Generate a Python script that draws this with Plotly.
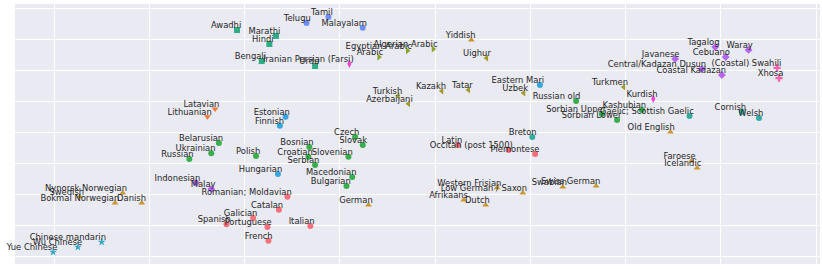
import plotly.graph_objects as go

languages = [
    "Awadhi", "Marathi", "Hindi", "Bengali", "Urdu",
    "Telugu", "Tamil", "Malayalam",
    "Iranian Persian (Farsi)", "Kurdish",
    "Arabic", "Egyptian Arabic", "Algerian Arabic",
    "Turkish", "Azerbaijani", "Kazakh", "Tatar", "Uzbek", "Uighur", "Turkmen",
    "Estonian", "Finnish", "Hungarian", "Eastern Mari",
    "Latavian", "Lithuanian",
    "Russian old", "Sorbian Upper", "Sorbian Lower", "Kashubian", "Czech", "Slovak",
    "Bosnian", "Croatian", "Slovenian", "Serbian", "Macedonian", "Bulgarian",
    "Belarusian", "Ukrainian", "Russian", "Polish",
    "Gaelic; Scottish Gaelic", "Cornish", "Welsh", "Breton",
    "Latin", "Occitan (post 1500)", "Piemontese", "Romanian; Moldavian", "Catalan",
    "Galician", "Spanish", "Portuguese", "French", "Italian",
    "Yiddish", "Old English", "German", "Western Frisian", "Low German / Saxon",
    "Afrikaans", "Dutch", "Swabian", "Swiss German", "Faroese", "Icelandic",
    "Nynorsk Norwegian", "Swedish", "Bokmal Norwegian", "Danish",
    "Indonesian", "Malay", "Javanese", "Tagalog", "Waray", "Cebuano",
    "Central/Kadazan Dusun", "Coastal Kadazan",
    "(Coastal) Swahili", "Xhosa",
    "Chinese mandarin", "Wu Chinese", "Yue Chinese",
]

families = (
    ["Indo-Aryan"] * 5 + ["Dravidian"] * 3 + ["Iranian"] * 2 + ["Semitic"] * 3 +
    ["Turkic"] * 7 + ["Uralic"] * 4 + ["Baltic"] * 2 + ["Slavic"] * 16 +
    ["Celtic"] * 4 + ["Romance"] * 10 + ["Germanic"] * 15 + ["Austronesian"] * 8 +
    ["Bantu"] * 2 + ["Sinitic"] * 3
)

x_vals = [
    1.92, 2.33, 2.26, 2.18, 2.74,
    2.65, 2.88, 3.24,
    3.10, 6.29,
    3.41, 3.71, 3.98,
    3.61, 3.72, 4.07, 4.35, 4.93, 4.54, 5.98,
    2.43, 2.37, 2.35, 5.10,
    1.69, 1.61,
    5.48, 5.75, 5.91, 6.17, 3.16, 3.24,
    2.68, 2.67, 3.09, 2.74, 3.13, 3.07,
    1.73, 1.65, 1.42, 2.12,
    6.67, 7.22, 7.40, 5.02,
    4.24, 4.77, 5.05, 2.45, 2.36,
    2.09, 1.81, 2.24, 2.25, 2.69,
    4.38, 6.47, 3.30, 4.65, 4.92,
    4.30, 4.53, 5.34, 5.69, 6.69, 6.75,
    0.72, 0.27, 0.64, 0.92,
    1.49, 1.65, 6.52, 6.94, 7.29, 7.05,
    6.80, 7.01,
    7.59, 7.61,
    0.50, 0.25, -0.01,
]

y_vals = [
    7.32, 7.13, 6.87, 6.32, 6.16,
    7.55, 7.74, 7.39,
    6.23, 5.10,
    6.45, 6.65, 6.71,
    5.19, 4.94, 5.35, 5.39, 5.29, 6.42, 5.48,
    4.52, 4.23, 2.68, 5.55,
    4.77, 4.52,
    5.03, 4.61, 4.42, 4.74, 3.87, 3.61,
    3.55, 3.23, 3.23, 2.97, 2.58, 2.29,
    3.68, 3.35, 3.16, 3.26,
    4.55, 4.68, 4.48, 3.87,
    3.61, 3.45, 3.32, 1.94, 1.52,
    1.26, 1.06, 0.97, 0.52, 1.00,
    7.00, 4.03, 1.68, 2.23, 2.06,
    1.84, 1.68, 2.26, 2.29, 3.10, 2.87,
    2.06, 1.94, 1.74, 1.74,
    2.39, 2.19, 6.39, 6.77, 6.68, 6.45,
    6.06, 5.87,
    6.10, 5.77,
    0.48, 0.32, 0.16,
]

family_colors = {
    "Indo-Aryan": "#30ac87",
    "Dravidian": "#6f8ef2",
    "Iranian": "#ee45d6",
    "Semitic": "#8ba52c",
    "Turkic": "#a39a2c",
    "Uralic": "#38a5dc",
    "Baltic": "#f07b35",
    "Slavic": "#39ae4c",
    "Celtic": "#35aca2",
    "Romance": "#f5707a",
    "Germanic": "#c9962e",
    "Austronesian": "#b467f0",
    "Bantu": "#f562b2",
    "Sinitic": "#37a8c6",
}
family_symbols = {
    "Indo-Aryan": "square",
    "Dravidian": "circle",
    "Iranian": "diamond-tall",
    "Semitic": "triangle-right",
    "Turkic": "triangle-left",
    "Uralic": "circle",
    "Baltic": "triangle-down",
    "Slavic": "circle",
    "Celtic": "circle",
    "Romance": "circle",
    "Germanic": "triangle-up",
    "Austronesian": "diamond",
    "Bantu": "cross",
    "Sinitic": "star",
}

fig = go.Figure()
for fam in family_colors:
    idx = [i for i, f in enumerate(families) if f == fam]
    fig.add_trace(go.Scatter(
        x=[x_vals[i] for i in idx],
        y=[y_vals[i] for i in idx],
        mode="markers",
        marker=dict(color=family_colors[fam], symbol=family_symbols[fam], size=6,
                    line=dict(width=0)),
        name=fam,
        hoverinfo="skip",
    ))

label_dx = 0.045  # small horizontal nudge so text ends at the marker
fig.add_trace(go.Scatter(
    x=[v + label_dx for v in x_vals], y=y_vals, text=languages, mode="text",
    textposition="top left", cliponaxis=False,
    textfont=dict(family="DejaVu Sans", size=8.4, color="#262626"),
    hoverinfo="skip", showlegend=False,
))

fig.update_layout(
    width=822, height=269,
    margin=dict(l=15, r=2, t=4, b=5),
    plot_bgcolor="#EAEAF2", paper_bgcolor="white",
    showlegend=False,
    font=dict(family="DejaVu Sans"),
    hovermode=False,
)
fig.update_xaxes(range=[-0.41, 8.04], dtick=1, tick0=0, showticklabels=False,
                 zeroline=False, gridcolor="white", gridwidth=1, showline=False, ticks="")
fig.update_yaxes(range=[-0.226, 8.16], dtick=1, tick0=0, showticklabels=False,
                 zeroline=False, gridcolor="white", gridwidth=1, showline=False, ticks="")

fig.write_html("out.html", config={"displayModeBar": False, "staticPlot": True})

with open("out.html", "r", encoding="utf-8") as f:
    html = f.read()
html = html.replace("<head>", "<head><style>html,body{margin:0;padding:0;}</style>", 1)
with open("out.html", "w", encoding="utf-8") as f:
    f.write(html)
